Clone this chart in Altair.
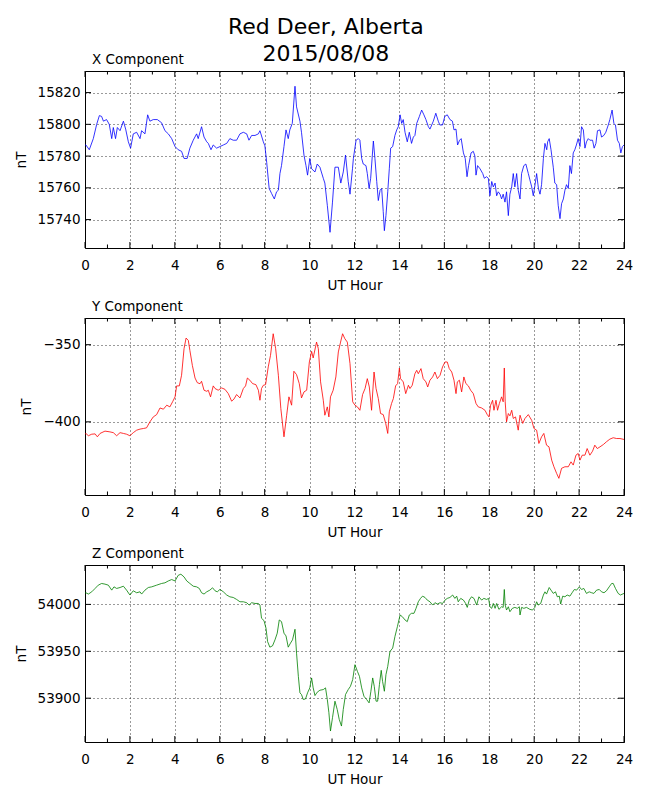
import altair as alt
import pandas as pd

FONT = "DejaVu Sans"
PLOT_W = 539
PLOT_H = 177

HOUR_TICKS = list(range(0, 25, 2))
HOUR_MINOR = list(range(1, 24, 2))

X_TICKS = [15740, 15760, 15780, 15800, 15820]
Y_TICKS = [-400, -350]
Z_TICKS = [53900, 53950, 54000]

X_DOMAIN = [15722.1, 15833.6]
Y_DOMAIN = [-447.4, -332.7]
Z_DOMAIN = [53853.3, 54042.0]

X_HOURS = [0.00, 0.04, 0.19, 0.37, 0.52, 0.64, 0.74, 0.82, 0.96, 1.08, 1.19, 1.26, 1.36, 1.44, 1.56, 1.71,
           1.81, 1.93, 2.03, 2.15, 2.30, 2.45, 2.52, 2.67, 2.79, 2.89, 3.04, 3.22, 3.41, 3.56, 3.71, 3.86,
           4.01, 4.15, 4.30, 4.41, 4.55, 4.67, 4.82, 4.97, 5.04, 5.19, 5.30, 5.42, 5.49, 5.61, 5.71, 5.86,
           6.01, 6.16, 6.31, 6.45, 6.60, 6.75, 6.90, 7.05, 7.20, 7.30, 7.42, 7.57, 7.72, 7.79, 7.94, 8.01,
           8.09, 8.20, 8.31, 8.43, 8.53, 8.61, 8.68, 8.75, 8.86, 8.95, 9.05, 9.12, 9.23, 9.35, 9.42, 9.57,
           9.64, 9.75, 9.84, 9.91, 10.01, 10.09, 10.24, 10.34, 10.46, 10.61, 10.68, 10.79, 10.91, 11.02,
           11.13, 11.28, 11.39, 11.50, 11.60, 11.72, 11.80, 11.91, 11.95, 12.07, 12.17, 12.24, 12.32, 12.39,
           12.51, 12.57, 12.65, 12.72, 12.84, 12.91, 12.99, 13.06, 13.14, 13.21, 13.28, 13.33, 13.40, 13.48,
           13.55, 13.61, 13.70, 13.80, 13.88, 13.95, 14.03, 14.10, 14.17, 14.25, 14.35, 14.44, 14.54, 14.62,
           14.69, 14.77, 14.89, 14.99, 15.09, 15.18, 15.29, 15.36, 15.51, 15.62, 15.73, 15.80, 15.92, 16.02,
           16.13, 16.25, 16.36, 16.43, 16.52, 16.59, 16.68, 16.75, 16.85, 16.93, 17.01, 17.08, 17.19, 17.29,
           17.36, 17.41, 17.48, 17.59, 17.71, 17.78, 17.88, 17.96, 18.03, 18.11, 18.18, 18.26, 18.33, 18.40,
           18.48, 18.55, 18.62, 18.70, 18.77, 18.85, 18.92, 19.00, 19.07, 19.14, 19.22, 19.29, 19.37, 19.44,
           19.54, 19.63, 19.74, 19.81, 19.89, 19.96, 20.04, 20.11, 20.19, 20.26, 20.33, 20.41, 20.48, 20.56,
           20.60, 20.67, 20.75, 20.85, 20.92, 21.00, 21.07, 21.15, 21.22, 21.30, 21.37, 21.44, 21.52, 21.59,
           21.66, 21.74, 21.81, 21.88, 21.96, 22.04, 22.11, 22.19, 22.26, 22.33, 22.41, 22.48, 22.60, 22.67,
           22.75, 22.82, 22.93, 23.00, 23.10, 23.19, 23.30, 23.37, 23.47, 23.55, 23.62, 23.71, 23.79, 23.86,
           23.93, 24.00]
X_VALUES = [15787, 15787, 15784, 15791, 15800, 15805.5, 15805, 15802, 15803, 15800, 15791, 15798, 15791, 15798, 15796, 15802,
            15797, 15789, 15785, 15794, 15795, 15791, 15796, 15794, 15806, 15802, 15803, 15803, 15801, 15796, 15794, 15791,
            15786, 15784, 15783, 15778.5, 15778.5, 15785, 15790, 15794, 15791, 15798.5, 15792, 15789, 15788, 15784, 15787, 15785,
            15786, 15787, 15788, 15791, 15790, 15790, 15794, 15795, 15794, 15790, 15793, 15793, 15794, 15796, 15789, 15786.5,
            15776, 15759.6, 15756.4, 15753, 15757.5, 15758.5, 15769, 15774, 15786, 15796.5, 15791, 15796.5, 15800.6, 15824, 15811, 15802,
            15795, 15780.6, 15774, 15768, 15778.5, 15772, 15770, 15775, 15773, 15766, 15763, 15749, 15732, 15751,
            15773, 15773, 15763, 15770, 15780.6, 15764, 15756, 15772, 15778.5, 15790, 15791, 15790, 15778.5, 15775,
            15774, 15769, 15759.6, 15766, 15789.5, 15778.5, 15764, 15752, 15758.5, 15759.6, 15745, 15733, 15742.5, 15757.5,
            15772, 15785, 15786, 15793, 15796.5, 15798.5, 15806, 15800.6, 15803, 15795, 15789, 15795, 15788, 15792,
            15793, 15800.6, 15805, 15809, 15806, 15803, 15798.5, 15797, 15802, 15807, 15802, 15799.6, 15799.6, 15805,
            15806, 15803, 15802, 15796.5, 15797, 15787, 15790, 15791, 15782, 15778.5, 15767, 15774, 15782, 15783,
            15780, 15768, 15774, 15772, 15769, 15766, 15767, 15766, 15755, 15764, 15760.6, 15763, 15755, 15757.5,
            15756, 15753, 15756, 15751, 15757.5, 15742.5, 15756, 15760.6, 15769, 15760.6, 15769, 15758.5, 15753, 15769,
            15774, 15775, 15769, 15765, 15760.6, 15755, 15762, 15769, 15759.6, 15756, 15762, 15778.5, 15788, 15784,
            15789, 15791, 15784, 15773, 15763, 15762, 15749, 15740.6, 15750, 15753, 15758.5, 15762, 15759.6, 15774,
            15769, 15782, 15784, 15787, 15791, 15786, 15798.5, 15796.5, 15785, 15789, 15791, 15790, 15790, 15785,
            15788, 15796, 15796.5, 15792, 15793, 15795, 15799.6, 15803, 15809, 15800.6, 15799.6, 15790, 15788, 15782,
            15786, 15787]

Y_HOURS = [0.00, 0.04, 0.15, 0.30, 0.45, 0.55, 0.67, 0.89, 1.11, 1.26, 1.41, 1.56, 1.71, 1.85, 2.00, 2.15,
           2.30, 2.45, 2.60, 2.74, 2.89, 3.04, 3.19, 3.34, 3.49, 3.64, 3.78, 3.90, 4.01, 4.08, 4.20, 4.30,
           4.41, 4.50, 4.60, 4.67, 4.78, 4.90, 5.00, 5.12, 5.19, 5.30, 5.42, 5.49, 5.59, 5.71, 5.79, 5.93,
           6.08, 6.23, 6.38, 6.53, 6.63, 6.75, 6.90, 7.05, 7.15, 7.23, 7.34, 7.46, 7.61, 7.72, 7.79, 7.86,
           7.94, 8.04, 8.16, 8.26, 8.38, 8.49, 8.61, 8.72, 8.86, 8.98, 9.08, 9.20, 9.30, 9.42, 9.54, 9.64,
           9.75, 9.87, 9.99, 10.09, 10.16, 10.31, 10.39, 10.49, 10.61, 10.68, 10.79, 10.86, 10.93, 11.05,
           11.17, 11.28, 11.38, 11.47, 11.57, 11.68, 11.80, 11.92, 12.02, 12.13, 12.24, 12.36, 12.47, 12.57,
           12.66, 12.76, 12.87, 12.96, 13.06, 13.16, 13.28, 13.39, 13.48, 13.55, 13.65, 13.73, 13.83, 13.92,
           14.00, 14.05, 14.17, 14.28, 14.40, 14.47, 14.57, 14.69, 14.77, 14.84, 14.96, 15.06, 15.18, 15.26,
           15.36, 15.48, 15.58, 15.69, 15.81, 15.92, 16.03, 16.13, 16.22, 16.33, 16.43, 16.52, 16.58, 16.67,
           16.77, 16.87, 16.96, 17.07, 17.17, 17.29, 17.41, 17.51, 17.66, 17.81, 17.91, 17.99, 18.06, 18.15,
           18.21, 18.30, 18.37, 18.45, 18.55, 18.62, 18.67, 18.71, 18.77, 18.85, 18.92, 19.00, 19.07, 19.17,
           19.29, 19.37, 19.49, 19.59, 19.74, 19.89, 19.99, 20.11, 20.21, 20.33, 20.43, 20.55, 20.66, 20.78,
           20.88, 21.00, 21.10, 21.22, 21.37, 21.52, 21.64, 21.74, 21.86, 21.96, 22.04, 22.14, 22.26, 22.36,
           22.48, 22.60, 22.70, 22.81, 22.93, 23.08, 23.22, 23.37, 23.52, 23.67, 23.82, 24.00]
Y_VALUES = [-408, -407.5, -409, -408, -407.8, -409.7, -407.5, -406, -406.5, -407, -409, -407, -407.5, -408, -409, -407,
            -405.4, -404.7, -404.3, -403.9, -400, -396.8, -395.3, -391, -391.8, -389.2, -390.3, -387, -383.8, -376.7, -376.7, -369.8,
            -352.6, -345.7, -347.2, -353.7, -363.4, -371.6, -374.6, -375.3, -373.7, -379.5, -380.2, -379.5, -383.8, -376.7, -378.4, -379.5,
            -378, -378.9, -381.7, -386.6, -385.3, -382.3, -384.5, -378.4, -376.7, -371.6, -373, -375.2, -375.9, -379.5, -386, -378.4,
            -376.3, -375.9, -364.4, -356.9, -342.9, -352.6, -369.8, -391.4, -409.7, -395.7, -383.8, -389.2, -367.2, -369.4, -375.2, -384.5,
            -380.6, -379.5, -361.2, -354.3, -358.6, -348.3, -352.6, -374.1, -386, -395.7, -390.3, -396.8, -383.8, -379.5,
            -370.9, -354.7, -348.3, -342.9, -346.1, -348.3, -362.3, -387, -389.2, -390.3, -392.5, -382.3, -378.4, -372,
            -377.4, -392.5, -367.7, -378.4, -384.9, -394.6, -395.3, -401, -407.5, -393.5, -388.1, -384.9, -376.7, -375.2,
            -365.1, -372, -374.1, -381.7, -376.3, -378.4, -376.3, -368.8, -366.6, -368.8, -365.5, -372, -374.1, -377.4,
            -373, -370.9, -367.7, -372, -369.8, -364.4, -361.2, -361.2, -365.5, -367.7, -373, -381.7, -374.1, -373,
            -380.6, -370.9, -375.2, -376.7, -379.5, -381.7, -388.1, -390.3, -391, -392.5, -395.3, -396.8, -389.2, -386,
            -392.5, -386, -392.5, -388.1, -383.8, -387, -365.1, -387, -400, -394.6, -396.1, -392.5, -397.8, -396.8,
            -405.4, -395.7, -401, -397.8, -395.3, -399, -404.3, -405.4, -414, -409.7, -407.5, -415.1, -416.2, -424.8,
            -429.1, -433.4, -436.6, -430.1, -429.1, -429.1, -425.9, -428, -421.6, -420.5, -424.8, -421.6, -421.6, -417.3,
            -421.6, -419, -415.1, -417.3, -416.2, -414.7, -412.9, -411.2, -410.3, -410.8, -410.8, -411.4]

Z_HOURS = [0.00, 0.04, 0.15, 0.30, 0.45, 0.59, 0.74, 0.89, 1.04, 1.19, 1.29, 1.41, 1.56, 1.71, 1.85, 2.00,
           2.15, 2.30, 2.45, 2.52, 2.67, 2.82, 2.97, 3.19, 3.41, 3.56, 3.71, 3.86, 4.01, 4.15, 4.27, 4.41,
           4.53, 4.67, 4.82, 4.97, 5.09, 5.19, 5.30, 5.42, 5.56, 5.68, 5.79, 5.89, 6.01, 6.16, 6.31, 6.45,
           6.60, 6.75, 6.90, 7.05, 7.20, 7.31, 7.42, 7.57, 7.72, 7.79, 7.86, 7.97, 8.06, 8.13, 8.23, 8.35,
           8.46, 8.56, 8.65, 8.75, 8.86, 8.95, 9.05, 9.15, 9.24, 9.35, 9.42, 9.50, 9.57, 9.64, 9.72, 9.82,
           9.91, 10.01, 10.09, 10.16, 10.24, 10.34, 10.46, 10.61, 10.71, 10.79, 10.86, 10.93, 11.02, 11.13,
           11.23, 11.32, 11.42, 11.50, 11.60, 11.72, 11.82, 11.92, 12.02, 12.13, 12.22, 12.32, 12.42, 12.54,
           12.65, 12.73, 12.81, 12.88, 12.96, 13.03, 13.11, 13.19, 13.25, 13.33, 13.40, 13.48, 13.58, 13.70,
           13.80, 13.91, 14.03, 14.13, 14.25, 14.35, 14.44, 14.54, 14.65, 14.74, 14.84, 14.94, 15.03, 15.14,
           15.24, 15.36, 15.48, 15.58, 15.69, 15.81, 15.92, 16.03, 16.13, 16.25, 16.37, 16.47, 16.55, 16.62,
           16.73, 16.85, 16.95, 17.02, 17.11, 17.21, 17.32, 17.44, 17.54, 17.66, 17.76, 17.88, 17.97, 18.03,
           18.11, 18.18, 18.26, 18.33, 18.43, 18.55, 18.62, 18.67, 18.71, 18.77, 18.85, 18.92, 19.03, 19.14,
           19.25, 19.34, 19.37, 19.44, 19.54, 19.66, 19.81, 19.93, 20.03, 20.11, 20.18, 20.29, 20.41, 20.48,
           20.55, 20.67, 20.75, 20.85, 20.95, 21.03, 21.12, 21.18, 21.27, 21.37, 21.47, 21.59, 21.69, 21.79,
           21.89, 22.01, 22.11, 22.21, 22.33, 22.45, 22.56, 22.66, 22.78, 22.90, 23.00, 23.11, 23.22, 23.34,
           23.45, 23.52, 23.62, 23.74, 23.84, 24.00]
Z_VALUES = [54012, 54012.4, 54011, 54013.4, 54017, 54020.5, 54022.3, 54021.6, 54020.5, 54015.2, 54018.7, 54017, 54018, 54019.4, 54015.2, 54010,
            54014.5, 54012.4, 54013.4, 54011, 54015.2, 54018, 54018.7, 54020.5, 54022.3, 54023, 54025, 54026.5, 54025, 54031, 54032.2, 54029.3,
            54025, 54022.3, 54019.4, 54018.7, 54017, 54012.4, 54011, 54013.4, 54015.2, 54017.7, 54014.5, 54013.4, 54016, 54013.4, 54010, 54008.1,
            54007.4, 54005.3, 54002.8, 54002.8, 54001.8, 53999.3, 54001.8, 54001, 54001, 53999.3, 53985.2, 53982.7, 53974.6, 53960.4, 53954.4, 53955.8,
            53962.2, 53969.3, 53983.4, 53981.6, 53969.3, 53966.4, 53954.4, 53958.7, 53962.2, 53973.5, 53948, 53923.3, 53905.7, 53903.9, 53898.6, 53899.3,
            53905.7, 53911, 53921.6, 53911, 53902.8, 53906.4, 53908.5, 53909.2, 53911, 53898.6, 53884.5, 53865, 53879.2, 53896.8,
            53888, 53877.4, 53870.3, 53888, 53903.9, 53909.2, 53912.7, 53919.8, 53935.7, 53928.6, 53923.3, 53911, 53902.1, 53898.6,
            53895, 53907.4, 53921.6, 53912.7, 53896.8, 53896.8, 53914.5, 53929.7, 53918, 53907.4, 53925.1, 53933.9, 53949.8, 53953.4,
            53965.7, 53976.3, 53988.7, 53986.9, 53983.4, 53981.6, 53988.7, 53990.5, 53990.5, 53995.8, 54002.8, 54006.4, 54008.8, 54007.4,
            54004.6, 54002.8, 53999.3, 54001.8, 54000.4, 54001.8, 54001, 54004.6, 54006.4, 54007.4, 54010, 54006.4, 54008.8, 54002.8,
            54006.4, 54004.6, 54001, 53996.8, 54004.6, 54008.1, 54006.4, 53999.3, 54008.1, 54004.6, 54006.4, 54005.3, 54006.4, 53997.5,
            53995.8, 54001, 53995.8, 54001, 53994.7, 53997.5, 53996.8, 54015.9, 53999.3, 53994, 53997.5, 53992.2, 53995.8, 53996.8,
            53995.8, 53997.5, 53988.7, 53996.8, 53995.8, 53996.8, 53994.7, 53994, 53996.8, 54002.8, 53999.3, 54001, 54010, 54013.4,
            54011, 54018, 54015.2, 54011.7, 54013.4, 54008.1, 54008.8, 54000.4, 54008.8, 54008.1, 54010, 54008.8, 54012.4, 54015.9,
            54015.2, 54018.7, 54015.9, 54017, 54011.7, 54013.4, 54012.4, 54011.7, 54015.2, 54015.9, 54013.4, 54012.4, 54014.5, 54018.7,
            54022.3, 54022.3, 54017, 54011.7, 54010, 54011.7]


def panel(hours, values, color, title, domain, yticks):
    df = pd.DataFrame({"hour": hours, "value": values})
    x = alt.X("hour:Q",
              scale=alt.Scale(domain=[0, 24], nice=False, zero=False),
              axis=alt.Axis(values=HOUR_TICKS, title="UT Hour", labelPadding=10,
                            titlePadding=7, format="d"))
    y = alt.Y("value:Q",
              scale=alt.Scale(domain=domain, nice=False, zero=False),
              axis=alt.Axis(values=yticks, title="nT", labelPadding=5, titlePadding=9,
                            format="d"))
    line = alt.Chart(df).mark_line(color=color, strokeWidth=0.8, clip=True).encode(x=x, y=y)

    major = pd.DataFrame({"hour": HOUR_TICKS})
    minor = pd.DataFrame({"hour": HOUR_MINOR})
    ydf = pd.DataFrame({"value": yticks})

    bot_major = alt.Chart(major).mark_rule(color="black", strokeWidth=1).encode(
        x=x, y=alt.value(PLOT_H), y2=alt.value(PLOT_H - 6))
    top_major = alt.Chart(major).mark_rule(color="black", strokeWidth=1).encode(
        x=x, y=alt.value(0), y2=alt.value(6))
    bot_minor = alt.Chart(minor).mark_rule(color="black", strokeWidth=1).encode(
        x=x, y=alt.value(PLOT_H), y2=alt.value(PLOT_H - 3.5))
    top_minor = alt.Chart(minor).mark_rule(color="black", strokeWidth=1).encode(
        x=x, y=alt.value(0), y2=alt.value(3.5))
    left_t = alt.Chart(ydf).mark_rule(color="black", strokeWidth=1).encode(
        y=y, x=alt.value(0), x2=alt.value(6))
    right_t = alt.Chart(ydf).mark_rule(color="black", strokeWidth=1).encode(
        y=y, x=alt.value(PLOT_W), x2=alt.value(PLOT_W - 6))

    return alt.layer(line, bot_major, top_major, bot_minor, top_minor, left_t, right_t).properties(
        width=PLOT_W, height=PLOT_H,
        title=alt.Title(title, anchor="start", frame="group", fontSize=13.5, fontWeight="normal",
                        dx=7, offset=4, font=FONT, color="black"))


px = panel(X_HOURS, X_VALUES, "#0000ff", "X Component", X_DOMAIN, X_TICKS)
py = panel(Y_HOURS, Y_VALUES, "#ff0000", "Y Component", Y_DOMAIN, Y_TICKS)
pz = panel(Z_HOURS, Z_VALUES, "#008000", "Z Component", Z_DOMAIN, Z_TICKS)

chart = alt.vconcat(px, py, pz, spacing=6).properties(
    title=alt.Title(["Red Deer, Alberta", "2015/08/08"], fontSize=22, lineHeight=26.7,
                    anchor="middle", fontWeight="normal", offset=-13.3, dx=2.5, font=FONT, color="black"),
    padding={"left": 5, "top": 8, "right": 5, "bottom": 5},
).configure_view(
    stroke="black", strokeWidth=1
).configure_axis(
    labelFont=FONT, labelFontSize=13.5, labelColor="black",
    titleFont=FONT, titleFontSize=13.5, titleFontWeight="normal", titleColor="black",
    grid=True, gridColor="black", gridDash=[1, 3], gridWidth=0.8, gridOpacity=1,
    domain=False, ticks=False, tickSize=0, labelFlush=False, labelOverlap=False
)

chart.save("out.html", embed_options={"renderer": "svg", "actions": False})
